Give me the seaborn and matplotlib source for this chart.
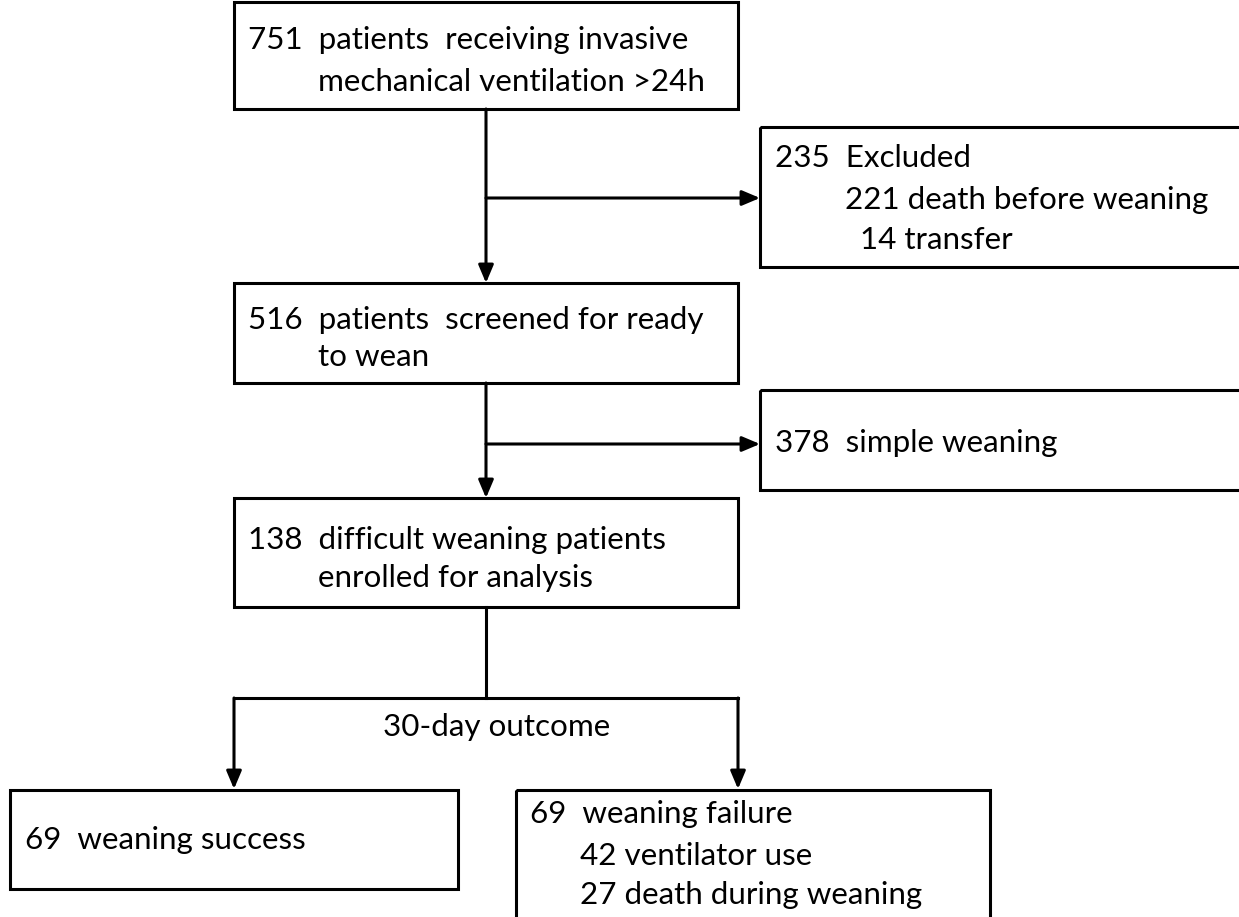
import matplotlib
matplotlib.use("Agg")
import matplotlib.pyplot as plt
import seaborn as sns
from matplotlib.patches import Rectangle

sns.set_theme(style="white")
plt.rcParams['font.family'] = ['Lato', 'DejaVu Sans']

# ---- content (counts and labels) ----
main_counts = [751, 516, 138]
main_line1 = ["patients  receiving invasive", "patients  screened for ready", "difficult weaning patients"]
main_line2 = ["mechanical ventilation >24h", "to wean", "enrolled for analysis"]
excluded_total = 235
excluded_items = [(221, "death before weaning"), (14, "transfer")]
simple_weaning = 378
outcome_label = "30-day outcome"
success_n = 69
failure_n = 69
failure_items = [(42, "ventilator use"), (27, "death during weaning")]

W, H = 1239, 917
fig = plt.figure(figsize=(W / 100, H / 100), dpi=100)
ax = fig.add_axes([0, 0, 1, 1])
ax.set_xlim(0, W)
ax.set_ylim(H, 0)
ax.axis("off")

LW = 2.2
FS = 22.6
col = "black"

def box(x0, y0, x1, y1):
    ax.add_patch(Rectangle((x0, y0), x1 - x0, y1 - y0, fill=False, lw=LW, ec=col, clip_on=False))

def txt(x, y, s, ha="left"):
    ax.text(x, y, s, fontsize=FS, ha=ha, va="center", color=col)

def arrow(x0, y0, x1, y1):
    ax.annotate("", xy=(x1, y1), xytext=(x0, y0),
                arrowprops=dict(arrowstyle="-|>,head_length=0.9,head_width=0.38", lw=LW, color=col,
                                shrinkA=0, shrinkB=0))

def line(xs, ys):
    ax.plot(xs, ys, color=col, lw=LW, solid_capstyle="projecting")

# main column boxes
main_boxes = [(234, 2, 738, 109), (234, 283, 738, 383), (234, 498, 738, 607)]
line1_y = [40, 320, 540]
line2_y = [82, 357, 578]
for (b, n, l1, l2, y1, y2) in zip(main_boxes, main_counts, main_line1, main_line2, line1_y, line2_y):
    box(*b)
    txt(248, y1, f"{n}  {l1}")
    txt(318, y2, l2)

cx = 486
# vertical arrows between main boxes
arrow(cx, 109, cx, 283)
arrow(cx, 383, cx, 498)
# side branches
arrow(cx, 198, 760, 198)
arrow(cx, 444, 760, 444)

# excluded box
box(760, 127, 1250, 267)
txt(775, 158, f"{excluded_total}  Excluded")
txt(845, 200, f"{excluded_items[0][0]} {excluded_items[0][1]}")
txt(860, 240, f"{excluded_items[1][0]} {excluded_items[1][1]}")

# simple weaning box
box(760, 390, 1250, 490)
txt(775, 443, f"{simple_weaning}  simple weaning")

# outcome split
line([cx, cx], [607, 698])
line([234, 738], [698, 698])
arrow(234, 698, 234, 789)
arrow(738, 698, 738, 789)
txt(497, 727, outcome_label, ha="center")

# bottom boxes
box(10, 790, 458, 889)
txt(25, 840, f"{success_n}  weaning success")

box(516, 790, 990, 925)
txt(530, 814, f"{failure_n}  weaning failure")
txt(580, 856, f"{failure_items[0][0]} {failure_items[0][1]}")
txt(580, 895, f"{failure_items[1][0]} {failure_items[1][1]}")

fig.savefig("out.png", dpi=100, facecolor="white")
